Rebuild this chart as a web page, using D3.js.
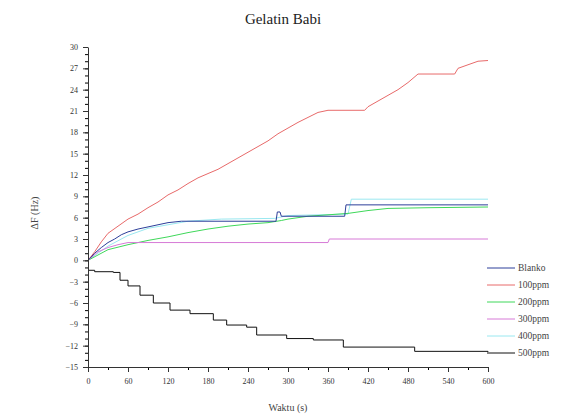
<!DOCTYPE html>
<html>
<head>
<meta charset="utf-8">
<script src="https://cdn.jsdelivr.net/npm/d3@7"></script>
<style>
    body { margin: 0; background: #fff; }
    text { font-family: 'Liberation Serif', 'DejaVu Serif', serif; }
</style>
</head>
<body>
<div id="viz"></div>
<script>
const margin = { top: 47, right: 77, bottom: 51, left: 88 };
const width = 565 - (margin.left + margin.right);
const height = 418 - (margin.top + margin.bottom);

const seriesNames = ['Blanko', '100ppm', '200ppm', '300ppm', '400ppm', '500ppm'];
const seriesColours = ['#2d3f9a', '#e86a6a', '#3fd85a', '#d77ad7', '#9ae8f0', '#111111'];

const xTicks = [0, 60, 120, 180, 240, 300, 360, 420, 480, 540, 600];
const yTicks = [-15, -12, -9, -6, -3, 0, 3, 6, 9, 12, 15, 18, 21, 24, 27, 30];

// waktu (s) and delta F (Hz) for each series
const blankoT = [0, 10, 20, 30, 40, 50, 60, 75, 90, 105, 120, 140, 282, 284, 288, 290, 385, 387, 600];
const blankoV = [0, 1, 1.8, 2.5, 3, 3.6, 4, 4.4, 4.7, 5, 5.3, 5.5, 5.5, 6.8, 6.8, 6.2, 6.2, 7.8, 7.8];

const ppm100T = [0, 10, 20, 30, 45, 60, 75, 90, 105, 120, 135, 150, 165, 180, 195, 210, 225, 240, 255, 270, 285, 300, 315, 330, 345, 360, 415, 420, 435, 450, 465, 480, 495, 550, 555, 570, 585, 600];
const ppm100V = [0, 1.2, 2.6, 3.8, 4.8, 5.8, 6.5, 7.4, 8.2, 9.2, 9.9, 10.8, 11.6, 12.2, 12.8, 13.6, 14.4, 15.2, 16, 16.8, 17.8, 18.6, 19.4, 20.1, 20.8, 21.1, 21.1, 21.6, 22.4, 23.2, 24, 25, 26.2, 26.2, 27, 27.5, 28, 28.1];

const ppm200T = [0, 30, 60, 90, 120, 150, 180, 210, 240, 270, 290, 300, 330, 360, 390, 420, 450, 510, 600];
const ppm200V = [0, 1.5, 2.2, 2.8, 3.3, 3.9, 4.4, 4.8, 5.1, 5.3, 5.6, 5.8, 6.2, 6.4, 6.6, 7, 7.3, 7.4, 7.5];

const ppm300T = [0, 15, 30, 45, 60, 360, 362, 600];
const ppm300V = [0, 1.2, 1.8, 2.2, 2.5, 2.5, 3, 3];

const ppm400T = [0, 30, 60, 90, 120, 150, 200, 280, 300, 390, 395, 600];
const ppm400V = [0, 2, 3.5, 4.5, 5, 5.5, 5.8, 5.9, 6.3, 6.5, 8.6, 8.6];

const ppm500T = [0, 10, 38, 48, 60, 78, 98, 123, 153, 188, 208, 238, 253, 298, 338, 383, 490, 600];
const ppm500V = [-1.4, -1.6, -1.7, -2.8, -3.6, -4.9, -6, -7, -7.5, -8.4, -9.1, -9.4, -10.5, -11, -11.2, -12.2, -12.8, -12.9];

const seriesT = [blankoT, ppm100T, ppm200T, ppm300T, ppm400T, ppm500T];
const seriesV = [blankoV, ppm100V, ppm200V, ppm300V, ppm400V, ppm500V];

const xScale = d3.scaleLinear().domain([0, 600]).range([0, width]);
const yScale = d3.scaleLinear().domain([-15, 30]).range([height, 0]);

const svg = d3.select('#viz').append('svg')
    .attr('width', 565)
    .attr('height', 418);

svg.append('text')
    .attr('x', 283)
    .attr('y', 24)
    .attr('text-anchor', 'middle')
    .style('font-family', "'Liberation Serif', serif")
    .style('font-size', '15px')
    .style('fill', '#222')
    .text('Gelatin Babi');

const chart = svg.append('g')
    .attr('transform', 'translate(' + margin.left + ',' + margin.top + ')');

// draw the series back to front so black and blue stay on top
const order = [4, 2, 3, 1, 0, 5];
const line = d3.line()
    .x(d => xScale(d[0]))
    .y(d => yScale(d[1]));

order.forEach(i => {
    const pts = seriesT[i].map((t, j) => [t, seriesV[i][j]]);
    chart.append('path')
        .datum(pts)
        .attr('fill', 'none')
        .attr('stroke', seriesColours[i])
        .attr('stroke-width', 1)
        .attr('d', line.curve(i === 5 ? d3.curveStepAfter : d3.curveLinear));
});

// axes, with minor ticks underneath
chart.append('g')
    .attr('transform', 'translate(0,' + height + ')')
    .call(d3.axisBottom(xScale).tickValues(d3.range(0, 601, 30)).tickSize(3).tickFormat(''))
    .call(g => g.select('.domain').remove());

chart.append('g')
    .call(d3.axisLeft(yScale).tickValues(d3.range(-15, 31, 1)).tickSize(3).tickFormat(''))
    .call(g => g.select('.domain').remove());

const xAxis = chart.append('g')
    .attr('transform', 'translate(0,' + height + ')')
    .call(d3.axisBottom(xScale).tickValues(xTicks).tickSize(5).tickSizeOuter(0).tickPadding(6));

const yAxis = chart.append('g')
    .call(d3.axisLeft(yScale).tickValues(yTicks).tickSize(5).tickSizeOuter(0).tickPadding(5));

[xAxis, yAxis].forEach(g => {
    g.selectAll('text').style('font-family', "'Liberation Serif', serif").style('font-size', '8px').style('fill', '#333');
    g.selectAll('line, path').style('stroke', '#333');
});

svg.append('text')
    .attr('x', 288)
    .attr('y', 411)
    .attr('text-anchor', 'middle')
    .style('font-size', '10px')
    .style('fill', '#444')
    .text('Waktu (s)');

svg.append('text')
    .attr('transform', 'translate(38,213) rotate(-90)')
    .attr('text-anchor', 'middle')
    .style('font-size', '10px')
    .style('fill', '#444')
    .text('ΔF (Hz)');

// legend
const legend = svg.append('g')
    .attr('transform', 'translate(487,268)');

seriesNames.forEach((name, i) => {
    const row = legend.append('g').attr('transform', 'translate(0,' + (i * 17) + ')');
    row.append('line')
        .attr('x1', 0).attr('x2', 28)
        .attr('y1', 0).attr('y2', 0)
        .attr('stroke', seriesColours[i]);
    row.append('text')
        .attr('x', 31)
        .attr('y', 3)
        .style('font-size', '9.5px')
        .style('fill', '#444')
        .text(name);
});
</script>
</body>
</html>
